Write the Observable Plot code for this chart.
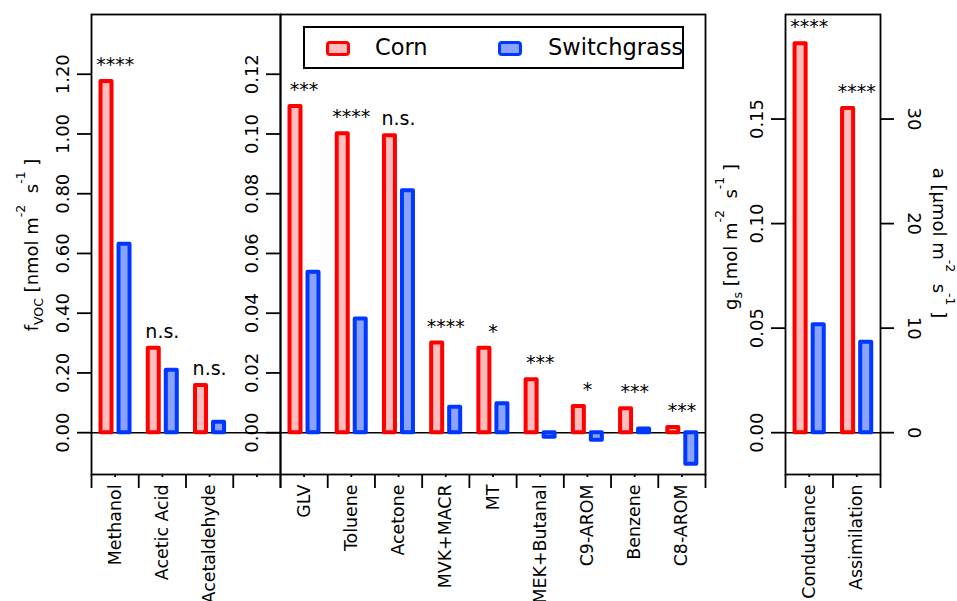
<!DOCTYPE html>
<html><head><meta charset="utf-8">
<script src="https://cdn.jsdelivr.net/npm/d3@7"></script>
<script src="https://cdn.jsdelivr.net/npm/@observablehq/plot@0.6"></script>
<style>
body{margin:0;background:#fff;}
#chart{position:relative;width:957px;height:601px;overflow:hidden;font-family:"DejaVu Sans",sans-serif;background:#fff;}
#chart svg{position:absolute;left:0;top:0;}
#legend{position:absolute;left:303px;top:26px;width:381px;height:43px;border:2px solid #000;box-sizing:border-box;font-size:22.5px;}
#legend .sw{position:absolute;top:13px;width:24px;height:15px;border-radius:4px;box-sizing:border-box;border:3.5px solid;}
#legend .lb{position:absolute;top:4px;line-height:30px;}
</style></head><body>
<div id="chart"></div>
<script>
// ---- data ----
const leftCategories = ["Methanol", "Acetic Acid", "Acetaldehyde", ""];
const leftCorn = [1.176, 0.283, 0.158, null];
const leftSwitchgrass = [0.631, 0.209, 0.035, null];
const leftSignif = ["****", "n.s.", "n.s.", ""];
const leftTicks = [0, 0.2, 0.4, 0.6, 0.8, 1.0, 1.2];

const midCategories = ["GLV", "Toluene", "Acetone", "MVK+MACR", "MT", "MEK+Butanal", "C9-AROM", "Benzene", "C8-AROM"];
const midCorn = [0.1092, 0.1001, 0.0994, 0.0300, 0.0283, 0.0177, 0.0088, 0.0080, 0.0017];
const midSwitchgrass = [0.0537, 0.0381, 0.0810, 0.0085, 0.0097, -0.0015, -0.0025, 0.0012, -0.0106];
const midSignif = ["***", "****", "n.s.", "****", "*", "***", "*", "***", "***"];
const midTicks = [0, 0.02, 0.04, 0.06, 0.08, 0.10, 0.12];

const rightCategories = ["Conductance", "Assimilation"];
const conductance = [0.186, 0.0516];      // g_s [mol m-2 s-1]: Corn, Switchgrass
const assimilation = [31.0, 8.66];        // a [umol m-2 s-1]: Corn, Switchgrass
const rightSignif = ["****", "****"];
const gsTicks = [0, 0.05, 0.10, 0.15];
const aTicks = [0, 10, 20, 30];
const aPerGs = 200; // right axis: a = 200 * g_s

const seriesNames = ["Corn", "Switchgrass"];

// ---- styles ----
const W = 957, H = 601;
const C = {Corn: {stroke: "#ff0000", fill: "#ffbdbd"}, Switchgrass: {stroke: "#0038ff", fill: "#8aa3ff"}};
const off = {Corn: [0.2013, 0.4343], Switchgrass: [0.5826, 0.8157]};
const FS = 18;

function panel({cats, corn, sw, signif, yDomain, yTicks, yFormat, mLeft, mRight, extra = []}) {
  const n = cats.length;
  const rows = s => cats.map((c, i) => ({i, v: (s === "Corn" ? corn : sw)[i]})).filter(d => d.v != null);
  const barMark = s => Plot.rect(rows(s), {
    x1: d => d.i + off[s][0], x2: d => d.i + off[s][1], y1: 0, y2: "v",
    fill: C[s].fill, stroke: C[s].stroke, strokeWidth: 4, strokeLinejoin: "round"
  });
  const labs = cats.map((c, i) => ({i, v: corn[i], t: signif[i]})).filter(d => d.t);
  return Plot.plot({
    width: W, height: H,
    marginLeft: mLeft, marginRight: mRight, marginTop: 14, marginBottom: H - 474,
    style: {background: "transparent", fontFamily: "DejaVu Sans", fontSize: FS + "px", overflow: "visible", color: "black"},
    x: {domain: [0, n]},
    y: {domain: yDomain},
    marks: [
      Plot.ruleY([0], {stroke: "black", strokeWidth: 1.6}),
      barMark("Corn"),
      barMark("Switchgrass"),
      Plot.text(labs, {x: d => d.i + 0.5, y: "v", text: "t", lineAnchor: "bottom", dy: -10.5, fontSize: 19, fill: "black"}),
      Plot.axisY({anchor: "left", ticks: yTicks, tickFormat: yFormat, tickSize: 14, tickPadding: 9,
        tickRotate: -90, textAnchor: "middle", lineAnchor: "bottom", label: null, strokeWidth: 1.8}),
      Plot.axisX({ticks: d3.range(n).map(i => i + 0.5), tickFormat: d => cats[Math.floor(d)], tickSize: 3, tickPadding: 7,
        tickRotate: -90, textAnchor: "end", lineAnchor: "middle", label: null, strokeWidth: 1.8, fontSize: 17.4}),
      Plot.axisX({ticks: d3.range(n + 1), tickFormat: () => "", tickSize: 14, label: null, strokeWidth: 1.8}),
      ...extra,
      Plot.frame({stroke: "black", strokeWidth: 1.8})
    ]
  });
}

const chart = document.getElementById("chart");

chart.append(panel({cats: leftCategories, corn: leftCorn, sw: leftSwitchgrass, signif: leftSignif,
  yDomain: [-0.14, 1.4], yTicks: leftTicks, yFormat: d3.format(".2f"), mLeft: 91, mRight: W - 280}));

chart.append(panel({cats: midCategories, corn: midCorn, sw: midSwitchgrass, signif: midSignif,
  yDomain: [-0.014, 0.14], yTicks: midTicks, yFormat: d3.format(".2f"), mLeft: 280, mRight: W - 705}));

// right panel: Conductance in g_s units, Assimilation converted to g_s-equivalent via right axis ratio
const rightCorn = [conductance[0], assimilation[0] / aPerGs];
const rightSw = [conductance[1], assimilation[1] / aPerGs];
chart.append(panel({cats: rightCategories, corn: rightCorn, sw: rightSw, signif: rightSignif,
  yDomain: [-0.02, 0.2], yTicks: gsTicks, yFormat: d3.format(".2f"), mLeft: 785, mRight: W - 880,
  extra: [Plot.axisY({anchor: "right", ticks: aTicks.map(a => a / aPerGs), tickFormat: d => String(Math.round(d * aPerGs)),
    tickSize: 13, tickPadding: 14, tickRotate: 90, textAnchor: "middle", lineAnchor: "bottom", label: null, strokeWidth: 1.8})]}));

// ---- axis titles ----
const ov = d3.select(chart).append("svg").attr("width", W).attr("height", H)
  .style("font-family", "DejaVu Sans").style("overflow", "visible");
function title(x, y, rot, parts) {
  const t = ov.append("text").attr("transform", `translate(${x},${y}) rotate(${rot})`)
    .attr("text-anchor", "middle").attr("font-size", FS).style("white-space", "pre");
  let shift = 0;
  for (const [s, kind] of parts) {
    const target = kind === "sub" ? 5 : kind === "sup" ? -13 : 0;
    t.append("tspan").attr("dy", target - shift).attr("font-size", kind ? 12.5 : FS).text(s);
    shift = target;
  }
}
title(38, 245, -90, [["f"], ["VOC", "sub"], [" [nmol m"], ["-2", "sup"], ["  s"], ["-1", "sup"], [" ]"]]);
title(737, 237, -90, [["g"], ["s", "sub"], [" [mol m"], ["-2", "sup"], ["  s"], ["-1", "sup"], [" ]"]]);
title(933, 243, 90, [["a [\u03bcmol m"], ["-2", "sup"], ["  s"], ["-1", "sup"], [" ]"]]);

// ---- legend ----
const lg = d3.select(chart).append("div").attr("id", "legend");
const legendPos = {Corn: [21, 70], Switchgrass: [193, 243]};
for (const s of seriesNames) {
  lg.append("div").attr("class", "sw").style("left", legendPos[s][0] + "px")
    .style("border-color", C[s].stroke).style("background", C[s].fill);
  lg.append("div").attr("class", "lb").style("left", legendPos[s][1] + "px").text(s);
}
</script>
</body></html>
